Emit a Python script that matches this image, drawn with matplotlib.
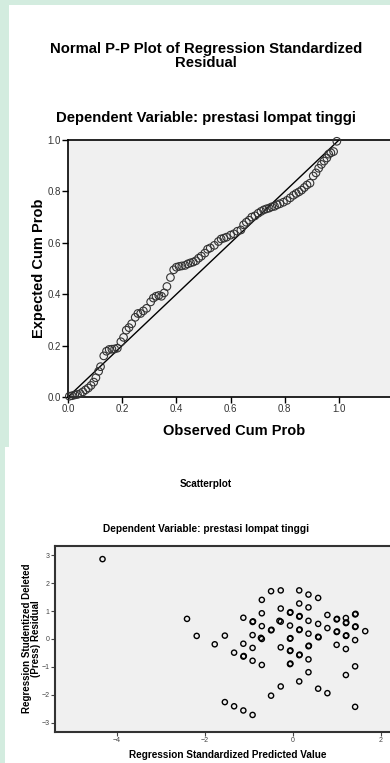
import matplotlib
matplotlib.use("Agg")
import matplotlib.pyplot as plt
from matplotlib.patches import Rectangle

plt.rcParams['font.family'] = ['Liberation Sans', 'DejaVu Sans']

# P-P plot data (observed vs expected cumulative probability)
obs_cum = [0.005, 0.015, 0.025, 0.035, 0.045, 0.055, 0.065, 0.075, 0.085, 0.095,
           0.103, 0.113, 0.120, 0.132, 0.142, 0.152, 0.162, 0.172, 0.182, 0.195,
           0.205, 0.215, 0.225, 0.235, 0.248, 0.258, 0.268, 0.278, 0.290, 0.305,
           0.315, 0.325, 0.335, 0.345, 0.355, 0.365, 0.378, 0.390, 0.400, 0.410,
           0.420, 0.432, 0.442, 0.452, 0.462, 0.472, 0.482, 0.492, 0.505, 0.515,
           0.525, 0.540, 0.555, 0.565, 0.575, 0.585, 0.600, 0.612, 0.625, 0.638,
           0.648, 0.658, 0.668, 0.678, 0.690, 0.702, 0.712, 0.722, 0.732, 0.742,
           0.752, 0.762, 0.772, 0.782, 0.795, 0.808, 0.820, 0.832, 0.842, 0.852,
           0.862, 0.872, 0.882, 0.893, 0.905, 0.915, 0.925, 0.935, 0.945, 0.955,
           0.962, 0.970, 0.980, 0.992]
exp_cum = [0.003, 0.005, 0.008, 0.010, 0.013, 0.020, 0.028, 0.035, 0.045, 0.058,
           0.075, 0.100, 0.118, 0.160, 0.178, 0.185, 0.186, 0.187, 0.190, 0.215,
           0.232, 0.260, 0.270, 0.285, 0.310, 0.325, 0.325, 0.335, 0.345, 0.370,
           0.385, 0.392, 0.395, 0.392, 0.405, 0.430, 0.465, 0.495, 0.505, 0.508,
           0.510, 0.512, 0.518, 0.522, 0.525, 0.530, 0.540, 0.548, 0.560, 0.575,
           0.580, 0.590, 0.605, 0.615, 0.618, 0.622, 0.630, 0.635, 0.645, 0.650,
           0.670, 0.680, 0.688, 0.700, 0.705, 0.715, 0.722, 0.728, 0.732, 0.735,
           0.740, 0.742, 0.748, 0.752, 0.758, 0.765, 0.775, 0.785, 0.792, 0.798,
           0.805, 0.815, 0.825, 0.832, 0.860, 0.872, 0.890, 0.905, 0.918, 0.930,
           0.945, 0.950, 0.955, 0.995]

# Scatterplot data (standardized predicted vs studentized deleted residual)
pred = [-4.32, -2.40, -2.18, -1.77, -1.54, -1.54, -1.33, -1.33, -1.12, -1.12,
        -1.12, -1.11, -1.12, -0.91, -0.90, -0.91, -0.91, -0.91, -0.91, -0.70,
        -0.70, -0.70, -0.72, -0.70, -0.70, -0.49, -0.49, -0.48, -0.49, -0.27,
        -0.27, -0.30, -0.27, -0.27, -0.27, -0.06, -0.05, -0.06, -0.06, -0.05,
        -0.06, -0.05, -0.06, -0.05, 0.15, 0.15, 0.15, 0.16, 0.15, 0.16, 0.15,
        0.16, 0.15, 0.36, 0.36, 0.36, 0.36, 0.36, 0.37, 0.36, 0.36, 0.58, 0.58,
        0.58, 0.59, 0.58, 0.79, 0.79, 0.79, 1.00, 1.01, 1.00, 1.01, 1.00, 1.21,
        1.21, 1.22, 1.21, 1.22, 1.21, 1.21, 1.42, 1.43, 1.42, 1.43, 1.42, 1.42,
        1.42, 1.65]
resid = [2.86, 0.72, 0.11, -0.19, 0.12, -2.26, -0.49, -2.41, 0.76, -0.17,
         -0.63, -0.61, -2.56, 0.61, 0.63, 0.14, -0.32, -0.78, -2.72, 1.40,
         0.92, 0.46, 0.04, 0.00, -0.93, 1.71, 0.31, 0.33, -2.03, 1.74,
         1.09, 0.65, 0.62, -0.30, -1.70, 0.94, 0.96, 0.48, 0.01, 0.03,
         -0.43, -0.41, -0.90, -0.88, 1.74, 1.27, 0.80, 0.82, 0.32, 0.34, -0.58,
         -0.56, -1.52, 1.59, 1.13, 0.65, 0.19, -0.26, -0.24, -0.73, -1.19, 1.47, 0.54,
         0.08, 0.06, -1.78, 0.86, 0.39, -1.94, 0.70, 0.72, 0.25, 0.27, -0.21, 0.75,
         0.57, 0.59, 0.11, 0.13, -0.36, -1.29, 0.88, 0.90, 0.43, 0.45, -0.04, -0.98,
         -2.43, 0.28]

W, H = 390, 763
fig = plt.figure(figsize=(W / 100, H / 100), dpi=100, facecolor='#d3ecdf')
fig.patches.append(Rectangle((9 / W, 1 - 447 / H), 1, 442 / H, transform=fig.transFigure,
                             facecolor='white', edgecolor='none', zorder=-5))
fig.patches.append(Rectangle((5 / W, 0), 1, 1 - 447 / H, transform=fig.transFigure,
                             facecolor='white', edgecolor='none', zorder=-5))

# ---- Normal P-P plot ----
ax1 = fig.add_axes([68 / W, 1 - 397 / H, 332 / W, 257 / H])
ax1.set_zorder(2)
ax1.set_facecolor('#f0f0f0')
ax1.plot([0, 1], [0, 1], color='black', lw=1.0, zorder=2)
ax1.scatter(obs_cum, exp_cum, s=30, facecolors='none', edgecolors='#333333',
            linewidths=0.8, zorder=3, clip_on=False)
ax1.set_xlim(0, 332 / 271)
ax1.set_ylim(0, 1)
ticks = [0.0, 0.2, 0.4, 0.6, 0.8, 1.0]
ax1.set_xticks(ticks)
ax1.set_yticks(ticks)
ax1.set_xticklabels(['%.1f' % t for t in ticks])
ax1.set_yticklabels(['%.1f' % t for t in ticks])
ax1.tick_params(direction='out', length=4, width=1, labelsize=7, colors='black',
                labelcolor='#333333', pad=1)
for s in ax1.spines.values():
    s.set_linewidth(1.2)
ax1.set_xlabel('Observed Cum Prob', fontsize=10.5, fontweight='bold', labelpad=7)
ax1.set_ylabel('Expected Cum Prob', fontsize=10.5, fontweight='bold', labelpad=1)

fig.text(206 / W, 1 - 56 / H, 'Normal P-P Plot of Regression Standardized\nResidual',
         ha='center', va='center', fontsize=10.7, fontweight='bold', linespacing=0.95)
fig.text(206 / W, 1 - 118 / H, 'Dependent Variable: prestasi lompat tinggi',
         ha='center', va='center', fontsize=10.7, fontweight='bold')

# ---- Scatterplot ----
ax2 = fig.add_axes([55 / W, 1 - 731.7 / H, 345 / W, 186 / H])
ax2.set_zorder(2)
ax2.set_facecolor('#f0f0f0')
ax2.scatter(pred, resid, s=14, facecolors='none', edgecolors='black',
            linewidths=1.0, zorder=3)
ax2.set_xlim(-5.40, 2.44)
ax2.set_ylim(-3.32, 3.34)
ax2.set_xticks([-4, -2, 0, 2])
ax2.set_yticks([-3, -2, -1, 0, 1, 2, 3])
ax2.tick_params(direction='out', length=3, width=0.8, labelsize=5, colors='#444444',
                labelcolor='#444444', pad=1)
for s in ax2.spines.values():
    s.set_linewidth(1.5)
    s.set_color('#333333')
ax2.set_xlabel('Regression Standardized Predicted Value', fontsize=7.2,
               fontweight='bold', labelpad=4)
ax2.set_ylabel('Regression Studentized Deleted\n(Press) Residual', fontsize=7.0,
               fontweight='bold', labelpad=0, linespacing=0.95)

fig.text(206 / W, 1 - 484 / H, 'Scatterplot', ha='center', va='center',
         fontsize=7.2, fontweight='bold')
fig.text(206 / W, 1 - 529 / H, 'Dependent Variable: prestasi lompat tinggi',
         ha='center', va='center', fontsize=7.3, fontweight='bold')

fig.savefig('out.png', dpi=100, facecolor=fig.get_facecolor())
